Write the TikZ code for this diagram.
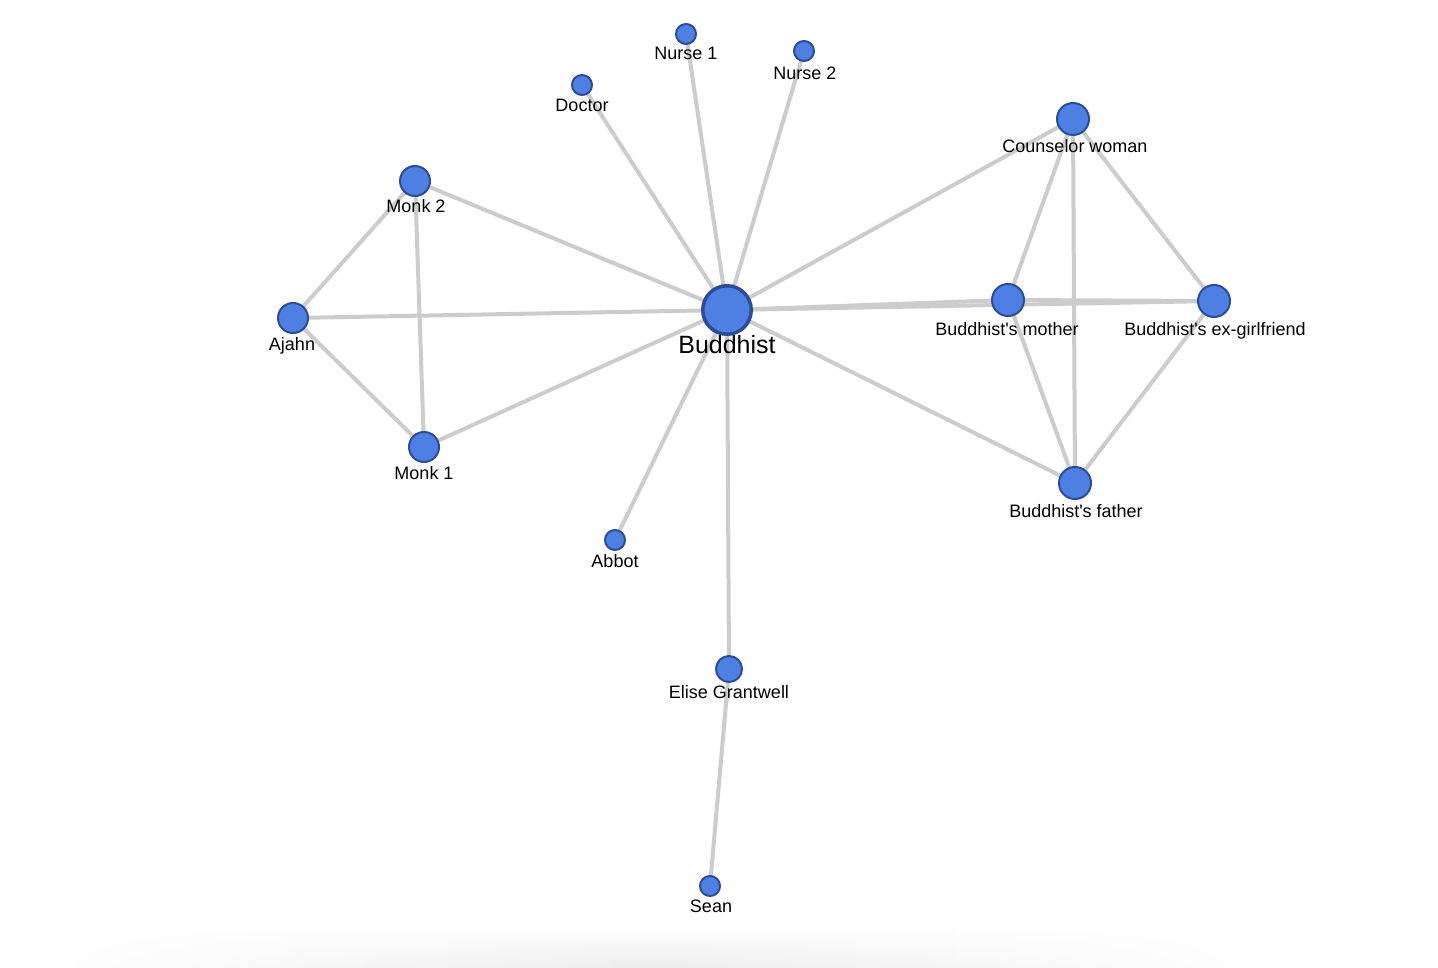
\documentclass[tikz,border=0pt]{standalone}
\usepackage{fontspec}
\setmainfont{Liberation Sans}[Ligatures=TeXOff]
\usetikzlibrary{backgrounds,fadings}
\pgfdeclarelayer{edges}
\pgfsetlayers{background,edges,main}
\definecolor{nodefill}{RGB}{78,128,228}
\definecolor{nodeborder}{RGB}{44,76,150}
\definecolor{edgecol}{RGB}{204,204,204}
\tikzfading[name=fadelr, left color=transparent!100, right color=transparent!100, middle color=transparent!0]
\begin{document}
\begin{tikzpicture}[x=1pt,y=-1pt,
  vert/.style={circle,draw=nodeborder,fill=nodefill,line width=2pt,inner sep=0pt,minimum size=#1},
  bigvert/.style={circle,draw=nodeborder,fill=nodefill,line width=3.5pt,inner sep=0pt,minimum size=#1},
  lab/.style={anchor=base,inner sep=0pt,font=\fontsize{18}{20}\selectfont},
  biglab/.style={anchor=base,inner sep=0pt,font=\fontsize{25}{28}\selectfont},
  link/.style={draw=edgecol,line width=4pt}]
\useasboundingbox (0,0) rectangle (1438,968);
\begin{pgfonlayer}{background}
\fill[white] (0,0) rectangle (1438,968);
\shade[top color=white,bottom color=black!7,path fading=fadelr] (40,925) rectangle (1260,968);
\end{pgfonlayer}

\node[bigvert=48.5pt] (b) at (727,310) {};
\node[vert=20pt] (n1) at (686,34) {};
\node[vert=20pt] (n2) at (804,51) {};
\node[vert=20pt] (doc) at (582,85) {};
\node[vert=32pt] (cw) at (1073,119) {};
\node[vert=30pt] (m2) at (415,181) {};
\node[vert=30pt] (aj) at (293,318) {};
\node[vert=30pt] (m1) at (424,447) {};
\node[vert=32pt] (mo) at (1008,300) {};
\node[vert=32pt] (ex) at (1214,301) {};
\node[vert=32pt] (fa) at (1075,483) {};
\node[vert=20pt] (ab) at (615,540) {};
\node[vert=26pt] (el) at (729,669) {};
\node[vert=20pt] (se) at (710,886) {};

\node[biglab] (lb) at (727,353) {Buddhist};
\node[lab] (ln1) at (686,60) {Nurse 1};
\node[lab] (ln2) at (805,80) {Nurse 2};
\node[lab] (ldoc) at (582,112) {Doctor};
\node[lab] (lcw) at (1075,153) {Counselor woman};
\node[lab] (lm2) at (416,213) {Monk 2};
\node[lab] (laj) at (292,350) {Ajahn};
\node[lab] (lm1) at (424,479) {Monk 1};
\node[lab] (lmo) at (1007,335) {Buddhist's mother};
\node[lab] (lex) at (1215,335) {Buddhist's ex-girlfriend};
\node[lab] (lfa) at (1076,517) {Buddhist's father};
\node[lab] (lab1) at (615,567) {Abbot};
\node[lab] (lel) at (729,698) {Elise Grantwell};
\node[lab] (lse) at (711,912) {Sean};

\begin{pgfonlayer}{edges}
\path[link] (b.center) -- (n1.center);
\path[link] (b.center) -- (n2.center);
\path[link] (b.center) -- (doc.center);
\path[link] (b.center) -- (m2.center);
\path[link] (b.center) -- (aj.center);
\path[link] (b.center) -- (m1.center);
\path[link] (b.center) -- (ab.center);
\path[link] (b.center) -- (el.center);
\path[link] (el.center) -- (se.center);
\path[link] (b.center) -- (cw.center);
\path[link] (b.center) -- (mo.center);
\path[link] (b.center) -- (ex.center);
\path[link] (b.center) -- (fa.center);
\path[link] (m2.center) -- (aj.center);
\path[link] (m2.center) -- (m1.center);
\path[link] (aj.center) -- (m1.center);
\path[link] (cw.center) -- (mo.center);
\path[link] (cw.center) -- (fa.center);
\path[link] (cw.center) -- (ex.center);
\path[link] (mo.center) -- (fa.center);
\path[link] (ex.center) -- (fa.center);
\path[link] (mo.center) -- (ex.center);
\end{pgfonlayer}
\end{tikzpicture}
\end{document}
